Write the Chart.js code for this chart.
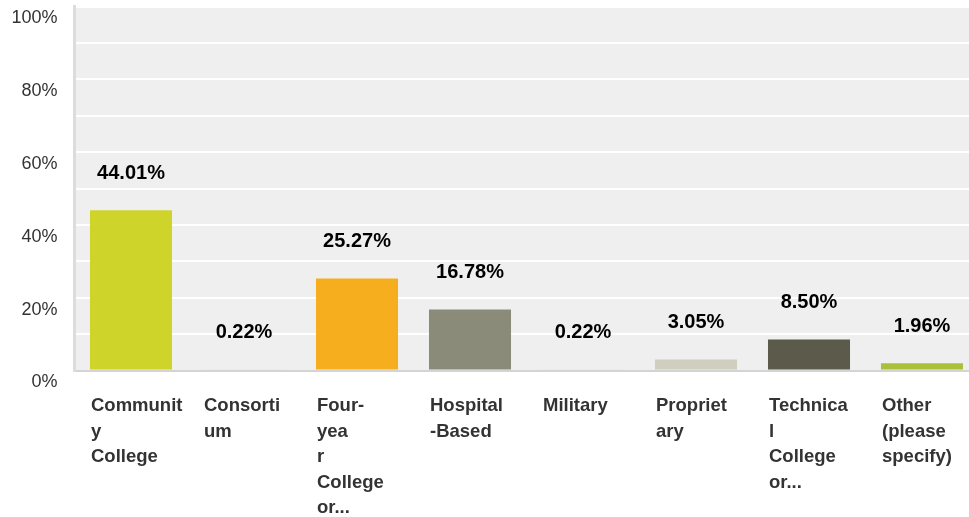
<!DOCTYPE html>
<html>
<head>
<meta charset="utf-8">
<script src="https://cdn.jsdelivr.net/npm/chart.js@4.4.1/dist/chart.umd.min.js"></script>
<style>
  html, body { margin: 0; padding: 0; background: #ffffff; overflow: hidden; }
  #wrap { width: 969px; height: 517px; overflow: hidden; }
  canvas { display: block; }
</style>
</head>
<body>
<div id="wrap"><canvas id="chart" width="980" height="517"></canvas></div>
<script>
// Institution types (labels are pre-wrapped the way they appear under each bar)
const categories = [
  ["Communit", "y", "College"],
  ["Consorti", "um"],
  ["Four-", "yea", "r", "College", "or..."],
  ["Hospital", "-Based"],
  ["Military"],
  ["Propriet", "ary"],
  ["Technica", "l", "College", "or..."],
  ["Other", "(please", "specify)"]
];

// Share of responses, in percent
const percentages = [44.01, 0.22, 25.27, 16.78, 0.22, 3.05, 8.50, 1.96];

// One colour per answer choice
const barColors = ["#cfd42b", "#e2e2dc", "#f6ae1f", "#8b8b7a", "#e2e2dc", "#d0cebf", "#5c5a4a", "#a9c03a"];

// Y-axis: a gridline every 10 %, a label every 20 %
const yTickValues = [0, 10, 20, 30, 40, 50, 60, 70, 80, 90, 100];
const yLabelEvery = 20;

const FONT = "'Liberation Sans', Arial, Helvetica, sans-serif";

// Light grey panel behind the plot
const plotBackground = {
  id: "plotBackground",
  beforeDraw(chart) {
    const { ctx, chartArea: a } = chart;
    ctx.save();
    ctx.fillStyle = "#efefef";
    ctx.fillRect(a.left, a.top, a.right - a.left, a.bottom - a.top);
    ctx.restore();
  }
};

// Percentage printed above each bar
const valueLabels = {
  id: "valueLabels",
  afterDatasetsDraw(chart) {
    const { ctx } = chart;
    const meta = chart.getDatasetMeta(0);
    ctx.save();
    ctx.font = "bold 20px " + FONT;
    ctx.fillStyle = "#000000";
    ctx.textAlign = "center";
    ctx.textBaseline = "middle";
    meta.data.forEach((bar, i) => {
      ctx.fillText(percentages[i].toFixed(2) + "%", bar.x, bar.y - 37);
    });
    ctx.restore();
  }
};

new Chart(document.getElementById("chart"), {
  type: "bar",
  data: {
    labels: categories,
    datasets: [{
      data: percentages,
      backgroundColor: barColors,
      borderWidth: 0,
      barPercentage: 0.726,
      categoryPercentage: 1.0
    }]
  },
  options: {
    responsive: false,
    animation: false,
    devicePixelRatio: 1,
    layout: { padding: { top: 6.5, right: 1.5, left: 0, bottom: 0 } },
    plugins: {
      legend: { display: false },
      tooltip: { enabled: false }
    },
    scales: {
      x: {
        offset: true,
        grid: { display: false, drawTicks: false },
        border: { display: true, color: "#d4d4d4", width: 2 },
        ticks: {
          autoSkip: false,
          maxRotation: 0,
          minRotation: 0,
          align: "start",
          labelOffset: -40,
          padding: 23,
          color: "#333333",
          font: { family: FONT, size: 18.5, weight: "bold", lineHeight: 1.38 }
        },
        afterFit(scale) {
          scale.height = 146.5;
          scale.paddingLeft = 0;
          scale.paddingRight = 0;
        }
      },
      y: {
        min: 0,
        max: 100,
        afterBuildTicks(scale) {
          scale.ticks = yTickValues.map(v => ({ value: v }));
        },
        grid: { color: "#ffffff", lineWidth: 2, drawTicks: false },
        border: { display: true, color: "#dcdcdc", width: 3 },
        ticks: {
          padding: 17,
          labelOffset: 12,
          color: "#333333",
          font: { family: FONT, size: 18 },
          callback: (v) => (v % yLabelEvery === 0 ? v + "%" : "")
        },
        afterFit(scale) {
          scale.width = 74.5;
          scale.paddingTop = 0;
          scale.paddingBottom = 0;
        }
      }
    }
  },
  plugins: [plotBackground, valueLabels]
});
</script>
</body>
</html>
